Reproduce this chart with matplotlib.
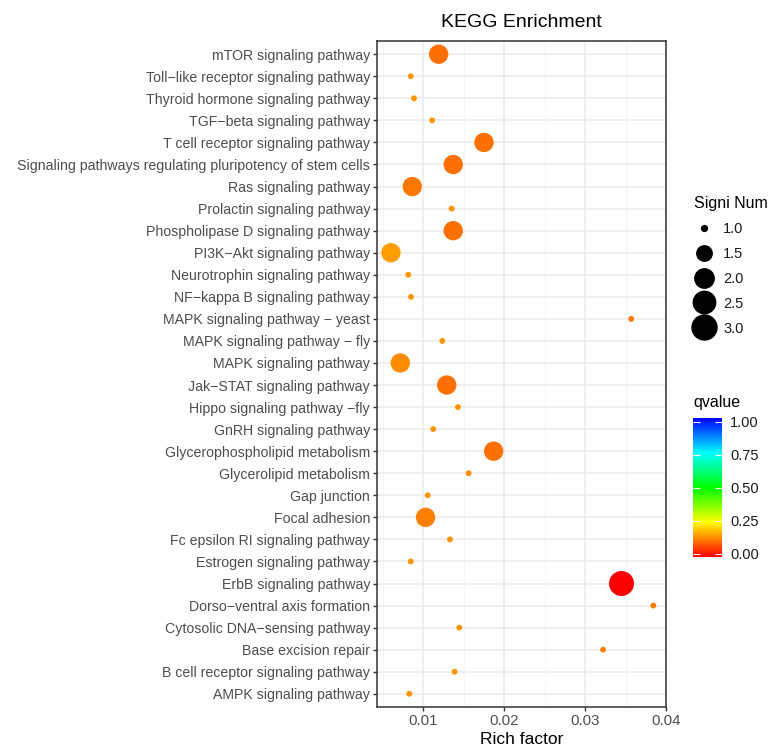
import numpy as np
import matplotlib
matplotlib.use("Agg")
import matplotlib.pyplot as plt
from matplotlib.colors import LinearSegmentedColormap
from matplotlib.lines import Line2D

plt.rcParams['font.family'] = ['Liberation Sans', 'DejaVu Sans']

# top to bottom, as shown on the y axis
pathways = [
    "mTOR signaling pathway",
    "Toll\u2212like receptor signaling pathway",
    "Thyroid hormone signaling pathway",
    "TGF\u2212beta signaling pathway",
    "T cell receptor signaling pathway",
    "Signaling pathways regulating pluripotency of stem cells",
    "Ras signaling pathway",
    "Prolactin signaling pathway",
    "Phospholipase D signaling pathway",
    "PI3K\u2212Akt signaling pathway",
    "Neurotrophin signaling pathway",
    "NF\u2212kappa B signaling pathway",
    "MAPK signaling pathway \u2212 yeast",
    "MAPK signaling pathway \u2212 fly",
    "MAPK signaling pathway",
    "Jak\u2212STAT signaling pathway",
    "Hippo signaling pathway \u2212fly",
    "GnRH signaling pathway",
    "Glycerophospholipid metabolism",
    "Glycerolipid metabolism",
    "Gap junction",
    "Focal adhesion",
    "Fc epsilon RI signaling pathway",
    "Estrogen signaling pathway",
    "ErbB signaling pathway",
    "Dorso\u2212ventral axis formation",
    "Cytosolic DNA\u2212sensing pathway",
    "Base excision repair",
    "B cell receptor signaling pathway",
    "AMPK signaling pathway",
]
rich_factor = [0.0119, 0.00845, 0.00885, 0.0111, 0.0175, 0.0137, 0.00864, 0.0135,
               0.0137, 0.0060, 0.00815, 0.00848, 0.0357, 0.01235, 0.00716, 0.0129,
               0.01428, 0.01123, 0.0187, 0.0156, 0.01054, 0.01028, 0.0133, 0.00845,
               0.0345, 0.03844, 0.01445, 0.03222, 0.01387, 0.00827]
signi_num = [2, 1, 1, 1, 2, 2, 2, 1, 2, 2, 1, 1, 1, 1, 2, 2, 1, 1, 2, 1,
             1, 2, 1, 1, 3, 1, 1, 1, 1, 1]
qvalue = [0.11, 0.145, 0.145, 0.145, 0.11, 0.11, 0.12, 0.145, 0.11, 0.155,
          0.145, 0.145, 0.12, 0.145, 0.14, 0.11, 0.145, 0.145, 0.11, 0.14,
          0.145, 0.125, 0.145, 0.145, 0.0, 0.125, 0.145, 0.125, 0.145, 0.145]

x_ticks = [0.01, 0.02, 0.03, 0.04]
size_breaks = [1.0, 1.5, 2.0, 2.5, 3.0]
q_breaks = [0.0, 0.25, 0.5, 0.75, 1.0]

cmap = LinearSegmentedColormap.from_list(
    "qv", ["#FF0000", "#FFFF00", "#00FF00", "#00FFFF", "#0000FF"])


def dot_diam(v):
    # ggplot style area scale (range 1-6), diameter in points
    v = np.asarray(v, dtype=float)
    d_px = 3.83 * (1 + 5 * np.sqrt((v - 1.0) / 2.0)) + 2
    return d_px * 0.72


W, H = 776, 747
fig = plt.figure(figsize=(W / 100, H / 100), dpi=100)
ax = fig.add_axes([377 / W, 1 - 707 / H, 289 / W, 666 / H])

y = np.arange(len(pathways))[::-1]
ax.scatter(rich_factor, y, s=dot_diam(signi_num) ** 2, c=qvalue, cmap=cmap,
           vmin=0, vmax=1, edgecolors='none', zorder=3)

ax.set_yticks(y)
ax.set_yticklabels(pathways)
ax.set_ylim(-0.6, len(pathways) - 1 + 0.6)
ax.set_xlim(0.00428, 0.0400)
ax.set_xticks(x_ticks)
ax.set_xticklabels([f"{t:.2f}" for t in x_ticks])
ax.set_xticks([0.005, 0.015, 0.025, 0.035], minor=True)
ax.grid(which='major', color='#EBEBEB', lw=1.1)
ax.grid(which='minor', axis='x', color='#F2F2F2', lw=0.6)
ax.set_axisbelow(True)
ax.tick_params(which='minor', length=0)
ax.tick_params(which='major', length=3, width=1.0, color='#333333',
               labelcolor='#4D4D4D', labelsize=10.2, pad=2)
ax.tick_params(axis='x', labelsize=10.8)
for sp in ax.spines.values():
    sp.set_color('#333333')
    sp.set_linewidth(1.1)
ax.set_xlabel('Rich factor', fontsize=12.5, labelpad=3)
ax.set_title('KEGG Enrichment', fontsize=14, pad=10)

# size legend
handles = [Line2D([], [], ls='none', marker='o', color='black',
                  markersize=float(dot_diam(b))) for b in size_breaks]
leg = fig.legend(handles, [f"{b:.1f}" for b in size_breaks], title='Signi Num',
                 loc='upper left', bbox_to_anchor=(688 / W, 1 - 190 / H),
                 frameon=False, fontsize=10.5, title_fontsize=11.5,
                 labelspacing=0.75, handletextpad=0.6, handlelength=1.4,
                 borderaxespad=0, alignment='left')
for t in leg.get_texts():
    t.set_color('#1A1A1A')

# qvalue colorbar
cax = fig.add_axes([693 / W, 1 - 557 / H, 29 / W, 139 / H])
grad = np.linspace(0, 1, 256).reshape(-1, 1)
cax.imshow(grad, cmap=cmap, aspect='auto', origin='lower',
           extent=[0, 1, -0.023, 1.028])
cax.set_xlim(0, 1)
cax.set_ylim(-0.023, 1.028)
cax.set_xticks([])
cax.set_yticks(q_breaks)
cax.set_yticklabels([f"{q:.2f}" for q in q_breaks])
cax.yaxis.tick_right()
cax.tick_params(axis='y', direction='in', length=5, width=0.8, color='white',
                left=True, right=True, labelleft=False, labelright=True,
                labelsize=10.5, labelcolor='#1A1A1A', pad=6)
for sp in cax.spines.values():
    sp.set_visible(False)
fig.text(693 / W, 1 - 402 / H, 'qvalue', fontsize=11.5, va='center', ha='left')

fig.savefig('out.png', dpi=100)
